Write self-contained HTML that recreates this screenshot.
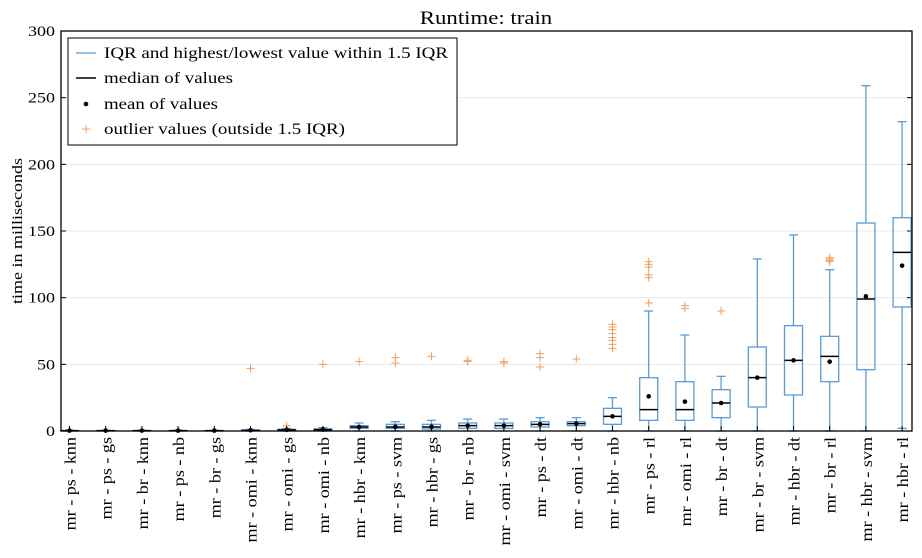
<!DOCTYPE html>
<html><head><meta charset="utf-8"><style>
body{margin:0;background:#fff;}
svg{display:block;font-family:"Liberation Serif",serif;}
</style></head><body>
<svg id="s" width="922" height="558" xmlns="http://www.w3.org/2000/svg">
<rect width="922" height="558" fill="#fff"/>
<text class="sc" x="486" y="24" font-size="19" text-anchor="middle">Runtime: train</text>
<text class="sc" transform="translate(22,231) rotate(-90)" font-size="15" text-anchor="middle">time in milliseconds</text>
<g id="g"></g>
</svg>
<script>
const g=document.getElementById('g');
const L=61,R=912,T=31,B=431;
const Y=v=>B-v*400/300;
let h='';
for(let v=0;v<=300;v+=50){const y=Y(v);
 if(v>0&&v<300)h+=`<line x1="${L}" x2="${R}" y1="${y}" y2="${y}" stroke="#e8e8e8" stroke-width="1"/>`;
 h+=`<line x1="${L}" x2="${L+5}" y1="${y}" y2="${y}" stroke="#000"/><line x1="${R-5}" x2="${R}" y1="${y}" y2="${y}" stroke="#000"/>`;
 h+=`<text class="sc" x="${L-6}" y="${y+5}" font-size="15" text-anchor="end">${v}</text>`;}
const names=["mr - ps - knn","mr - ps - gs","mr - br - knn","mr - ps - nb","mr - br - gs","mr - omi - knn","mr - omi - gs","mr - omi - nb","mr - hbr - knn","mr - ps - svm","mr - hbr - gs","mr - br - nb","mr - omi - svm","mr - ps - dt","mr - omi - dt","mr - hbr - nb","mr - ps - rl","mr - omi - rl","mr - br - dt","mr - br - svm","mr - hbr - dt","mr - br - rl","mr - hbr - svm","mr - hbr - rl"];
const d=[
[0,0,0.2,0.4,0.8,0.3,[]],[0,0,0.2,0.4,0.8,0.3,[]],[0,0,0.2,0.4,0.8,0.3,[]],[0,0,0.2,0.4,0.8,0.3,[]],[0,0,0.2,0.4,0.8,0.3,[]],
[0,0.2,0.5,0.8,1.2,0.6,[47]],[0,0.3,0.8,1.3,2,0.9,[4]],[0,0.4,1,1.6,2.5,1.1,[50]],
[0,2,3,4,6,3,[52]],[0,2,3,5,7,3.2,[51,55]],[0,1.5,3,5,8,3.2,[56]],[0,2,4,6,9,4,[52,53]],[0,2,4,6,9,4,[51,52]],
[0,3,5,7,10,5,[48,55,58]],[0,4,5.5,7,10,5.5,[54]],
[0,5,11,17,25,11,[62,65,68,70,73,76,78,80]],
[0,8,16,40,90,26,[96,115,117,123,125,127]],
[0,8,16,37,72,22,[92,94]],
[0,10,21,31,41,21,[90]],
[0,18,40,63,129,40,[]],
[0,27,53,79,147,53,[]],
[0,37,56,71,121,52,[127,128,129,130]],
[0,46,99,156,259,101,[]],
[2,93,134,160,232,124,[]]];
const blue="#5b9bd5";
d.forEach((r,i)=>{const x=69.5+i*36.2,w=9;
 const [lo,q1,md,q3,hi,mn,out]=r;
 h+=`<line x1="${x}" x2="${x}" y1="${Y(hi)}" y2="${Y(q3)}" stroke="${blue}" stroke-width="1.3"/>`;
 h+=`<line x1="${x}" x2="${x}" y1="${Y(q1)}" y2="${Y(lo)}" stroke="${blue}" stroke-width="1.3"/>`;
 h+=`<line x1="${x-4.5}" x2="${x+4.5}" y1="${Y(hi)}" y2="${Y(hi)}" stroke="${blue}" stroke-width="1.3"/>`;
 h+=`<line x1="${x-4.5}" x2="${x+4.5}" y1="${Y(lo)}" y2="${Y(lo)}" stroke="${blue}" stroke-width="1.3"/>`;
 h+=`<rect x="${x-w}" y="${Y(q3)}" width="${2*w}" height="${Math.max(Y(q1)-Y(q3),0.5)}" fill="none" stroke="${blue}" stroke-width="1.3"/>`;
 h+=`<line x1="${x-w}" x2="${x+w}" y1="${Y(md)}" y2="${Y(md)}" stroke="#000" stroke-width="1.5"/>`;
 h+=`<circle cx="${x}" cy="${Y(mn)}" r="2.3" fill="#000"/>`;
 out.forEach(o=>{const y=Y(o);h+=`<path d="M${x-4} ${y}H${x+4}M${x} ${y-4}V${y+4}" stroke="#f0a060" stroke-width="1"/>`;});
 h+=`<line x1="${x}" x2="${x}" y1="${B}" y2="${B-5}" stroke="#000"/>`;
 h+=`<text class="tk" transform="translate(${x+6},${B+6}) rotate(-90)" font-size="16" text-anchor="end">${names[i]}</text>`;
});
h+=`<rect x="${L}" y="${T}" width="${R-L}" height="${B-T}" fill="none" stroke="#000" stroke-width="1.3"/>`;
h+=`<rect x="68" y="38" width="389" height="107" fill="#fff" stroke="#000" stroke-width="1"/>`;
const ly=[53,78,104,129];
h+=`<line x1="76" x2="96" y1="${ly[0]}" y2="${ly[0]}" stroke="${blue}" stroke-width="1.3"/>`;
h+=`<line x1="76" x2="96" y1="${ly[1]}" y2="${ly[1]}" stroke="#000" stroke-width="1.5"/>`;
h+=`<circle cx="86" cy="${ly[2]}" r="2.3" fill="#000"/>`;
h+=`<path d="M82 ${ly[3]}H90M86 ${ly[3]-4}V${ly[3]+4}" stroke="#f0a060"/>`;
const lw=[344,129,114,241];
["IQR and highest/lowest value within 1.5 IQR","median of values","mean of values","outlier values (outside 1.5 IQR)"].forEach((t,k)=>{
 h+=`<text x="104" y="${ly[k]+5}" font-size="16" textLength="${lw[k]}" lengthAdjust="spacingAndGlyphs">${t}</text>`;});
g.innerHTML=h;
document.querySelectorAll('.sc').forEach(t=>{const n=t.getComputedTextLength();
 t.setAttribute('textLength',(n*1.2).toFixed(1));t.setAttribute('lengthAdjust','spacingAndGlyphs');});
document.querySelectorAll('.tk').forEach(t=>{const n=t.getComputedTextLength();
 t.setAttribute('textLength',(n*1.13).toFixed(1));t.setAttribute('lengthAdjust','spacingAndGlyphs');});
</script>
</body></html>
